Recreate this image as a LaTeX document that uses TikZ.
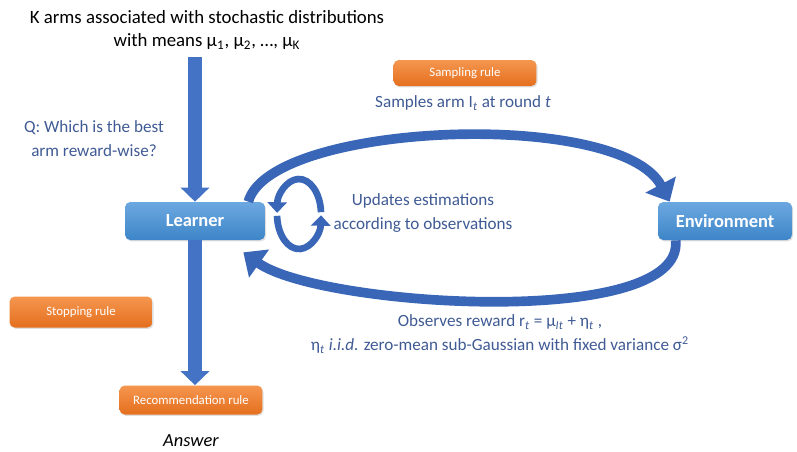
\documentclass[tikz,border=0pt]{standalone}
\usepackage{fontspec}
\setmainfont{Carlito}
\usetikzlibrary{arrows.meta,shadows}

\definecolor{txtblue}{HTML}{3F5A94}
\definecolor{arrblue}{HTML}{4472C4}
\definecolor{curvblue}{HTML}{3A66B8}
\definecolor{boxtop}{HTML}{6CA8E0}
\definecolor{boxbot}{HTML}{3D85C8}
\definecolor{orgtop}{HTML}{F5964F}
\definecolor{orgbot}{HTML}{E46F1E}

\begin{document}
\begin{tikzpicture}[x=0.02cm, y=-0.02cm,
    bluebox/.style={rounded corners=3pt, top color=boxtop, bottom color=boxbot, text=white,
        font=\fontsize{10.5}{12}\selectfont\bfseries, minimum height=0.76cm,
        drop shadow={opacity=0.25, shadow xshift=0.6pt, shadow yshift=-0.8pt}},
    rulebox/.style={rounded corners=3pt, top color=orgtop, bottom color=orgbot, text=white,
        font=\fontsize{7.3}{8}\selectfont, minimum width=2.86cm, minimum height=0.58cm,
        drop shadow={opacity=0.25, shadow xshift=0.6pt, shadow yshift=-0.8pt}},
    note/.style={text=txtblue, align=center, inner sep=0pt, font=\fontsize{9.75}{13.6}\selectfont},
    downarrow/.style={draw=arrblue, line width=7.8pt, -{Triangle[width=16pt,length=8pt]}},
    cyclearrow/.style={draw=curvblue, line width=5.5pt, -{Triangle[width=19pt,length=11pt]}},
    selfarrow/.style={draw=curvblue, line width=3.8pt, -{Triangle[width=11pt,length=6pt]}}]
    \useasboundingbox (0,0) rectangle (797,451);

    % boxes
    \node[bluebox, minimum width=2.8cm] (learner) at (195,221) {Learner};
    \node[bluebox, minimum width=2.68cm] (env) at (725,221) {Environment};
    \node[rulebox, minimum height=0.52cm] (samp) at (465,73) {Sampling rule};
    \node[rulebox, minimum height=0.62cm] (stop) at (81,312) {Stopping rule};
    \node[rulebox] (rec) at (191,400) {Recommendation rule};

    % texts
    \node[align=center, inner sep=0pt, font=\fontsize{10.7}{13.6}\selectfont] (arms) at (207,30)
        {K arms associated with stochastic distributions\\with means μ\textsubscript{1}, μ\textsubscript{2}, …, μ\textsubscript{K}};
    \node[note] (q) at (94,139) {Q: Which is the best\\arm reward-wise?};
    \node[note] (samptxt) at (463,103) {Samples arm I\textsubscript{\textit{t}} at round \textit{t}};
    \node[note] (updtxt) at (423,213) {Updates estimations\\according to observations};
    \node[note] (obstxt) at (500,334)
        {Observes reward r\textsubscript{\textit{t}} = μ\textsubscript{\textit{It}} + η\textsubscript{\textit{t}} ,\\
         η\textsubscript{\textit{t}} \textit{i.i.d.} zero-mean sub-Gaussian with fixed variance σ\textsuperscript{2}};
    \node[inner sep=0pt, font=\fontsize{10.5}{12}\selectfont\itshape] (ans) at (191,441) {Answer};

    % main flow
    \draw[downarrow, shorten <=4pt] (arms.south -| learner.north) -- (learner.north);
    \draw[downarrow] (learner.south) -- (learner.south |- rec.north);

    % learner <-> environment
    \draw[cyclearrow] ([xshift=-0.34cm]learner.north east) .. controls (270,122) and (620,108) .. ([xshift=0.24cm]env.north west);
    \draw[cyclearrow] ([xshift=0.36cm]env.south west) .. controls (685,330) and (320,307) .. ([shift={(-22,12)}]learner.south east);

    % update loop
    \coordinate (upd) at (299,214);
    \draw[selfarrow] (upd) ++(3:0.44cm and 0.7cm) arc[start angle=3, end angle=178, x radius=0.44cm, y radius=0.7cm];
    \draw[selfarrow] (upd) ++(183:0.44cm and 0.7cm) arc[start angle=183, end angle=358, x radius=0.44cm, y radius=0.7cm];
\end{tikzpicture}
\end{document}
